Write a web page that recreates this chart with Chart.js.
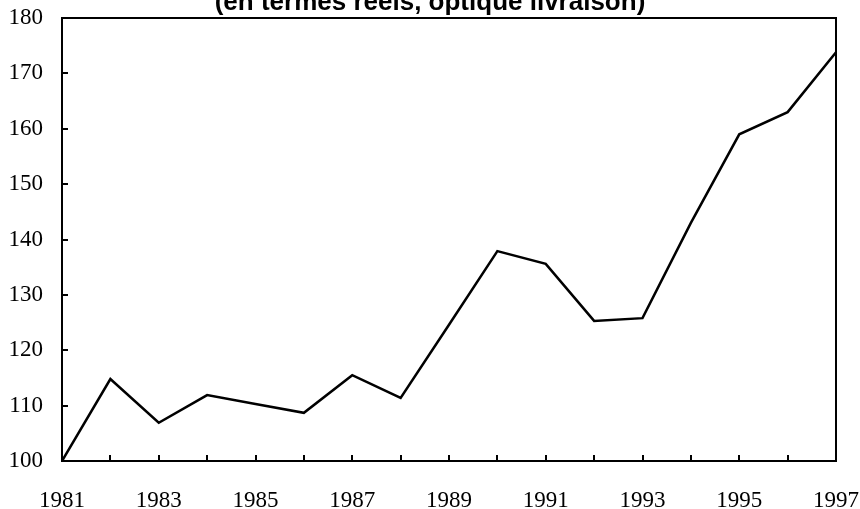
<!DOCTYPE html>
<html>
<head>
<meta charset="utf-8">
<script src="https://cdn.jsdelivr.net/npm/chart.js@4/dist/chart.umd.min.js"></script>
<style>
  html, body { margin: 0; padding: 0; background: #fff; }
  #wrap { width: 860px; height: 509px; position: relative; }
</style>
</head>
<body>
<div id="wrap"><canvas id="chart"></canvas></div>
<script>
const years = [1981, 1982, 1983, 1984, 1985, 1986, 1987, 1988, 1989,
  1990, 1991, 1992, 1993, 1994, 1995, 1996, 1997];
const values = [100, 114.8, 106.9, 111.9, 110.3, 108.7, 115.5, 111.4, 124.6,
  137.9, 135.6, 125.3, 125.8, 143, 159, 163, 173.8];
const yTicks = [100, 110, 120, 130, 140, 150, 160, 170, 180];
const title = '(en termes réels, optique livraison)';

const serif = "'Liberation Serif', 'Times New Roman', serif";

// frame, inward tick marks and the (cropped) title
const framePlugin = {
  id: 'frame',
  afterDraw(chart) {
    const { ctx, chartArea: a, scales: { x, y } } = chart;
    ctx.save();
    ctx.strokeStyle = '#000';
    ctx.lineWidth = 2;
    ctx.strokeRect(a.left, a.top, a.right - a.left, a.bottom - a.top);

    ctx.beginPath();
    years.forEach(yr => {
      const px = Math.round(x.getPixelForValue(yr));
      ctx.moveTo(px, a.bottom);
      ctx.lineTo(px, a.bottom - 6);
    });
    yTicks.forEach(v => {
      const py = Math.round(y.getPixelForValue(v));
      ctx.moveTo(a.left, py);
      ctx.lineTo(a.left + 6, py);
    });
    ctx.stroke();

    ctx.fillStyle = '#000';
    ctx.font = "bold 26px 'Liberation Sans', Arial, sans-serif";
    ctx.textAlign = 'center';
    ctx.textBaseline = 'alphabetic';
    ctx.fillText(title, 430, 10);
    ctx.restore();
  }
};

new Chart(document.getElementById('chart'), {
  type: 'line',
  data: {
    datasets: [{
      data: years.map((yr, i) => ({ x: yr, y: values[i] })),
      borderColor: '#000',
      borderWidth: 2.5,
      pointRadius: 0,
      tension: 0,
      fill: false
    }]
  },
  options: {
    responsive: true,
    maintainAspectRatio: false,
    animation: false,
    layout: { padding: { top: 18, right: 24, bottom: 0, left: 0 } },
    plugins: {
      legend: { display: false },
      tooltip: { enabled: false }
    },
    scales: {
      x: {
        type: 'linear',
        min: 1981,
        max: 1997,
        afterFit: s => {
          s.height = 48;
          s.paddingLeft = 0;
          s.paddingRight = 0;
        },
        afterBuildTicks: s => { s.ticks = years.map(v => ({ value: v })); },
        ticks: {
          autoSkip: false,
          maxRotation: 0,
          padding: 18,
          color: '#000',
          font: { family: serif, size: 23 },
          callback: v => (v % 2 === 1 ? String(v) : '')
        },
        grid: { display: false },
        border: { display: true, color: '#000', width: 2 }
      },
      y: {
        min: 100,
        max: 180,
        afterFit: s => {
          s.width = 62;
          s.paddingTop = 0;
          s.paddingBottom = 0;
        },
        afterBuildTicks: s => { s.ticks = yTicks.map(v => ({ value: v })); },
        ticks: {
          padding: 11,
          color: '#000',
          font: { family: serif, size: 23 }
        },
        grid: { display: false },
        border: { display: true, color: '#000', width: 2 }
      }
    }
  },
  plugins: [framePlugin]
});
</script>
</body>
</html>
